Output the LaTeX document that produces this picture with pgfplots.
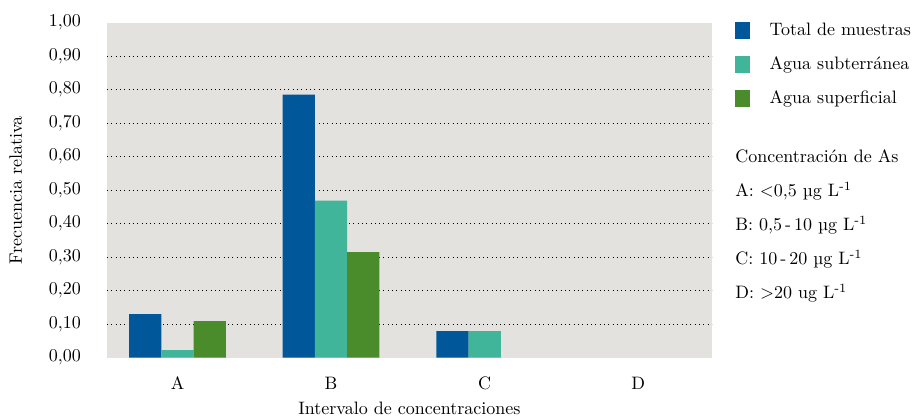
\documentclass[border=0pt]{standalone}
\usepackage{pgfplots}
\pgfplotsset{compat=1.18}

\definecolor{cTotal}{HTML}{00589A}
\definecolor{cSub}{HTML}{40B59A}
\definecolor{cSup}{HTML}{4A8B2C}
\definecolor{cBack}{HTML}{E3E2DE}

\begin{document}
\begin{tikzpicture}
\path[use as bounding box] (-59.4pt,-32.8pt) rectangle (447.7pt,198.6pt);
\begin{axis}[
    name=ax,
    at={(0,0)}, anchor=south west,
    scale only axis,
    width=336pt, height=186pt,
    ybar=0pt, bar width=0.21,
    xmin=-0.46, xmax=3.48,
    ymin=0, ymax=1,
    axis line style={draw=none},
    axis background/.style={fill=cBack},
    xtick={0,1,2,3},
    xticklabels={A,B,C,D},
    ytick={0.1,0.2,...,0.91},
    extra y ticks={0,1},
    extra y tick style={grid=none},
    ymajorgrids,
    major grid style={black, dotted, line width=0.5pt},
    tick style={draw=none},
    yticklabel style={
        /pgf/number format/.cd, fixed, fixed zerofill, precision=2, use comma,
        /tikz/.cd, xshift=-11pt},
    xticklabel style={yshift=-3pt},
    xlabel={Intervalo de concentraciones},
    xlabel style={yshift=0pt},
    ylabel={Frecuencia relativa},
    ylabel style={yshift=8pt},
    legend style={at={(rel axis cs:1,1)}, anchor=north west,
        xshift=9.5pt, yshift=4pt, draw=none, fill=none, row sep=6.3pt,
        /tikz/every odd column/.append style={column sep=9pt}},
    legend cell align=left,
    legend image code/.code={\fill[#1] (0pt,-4.7pt) rectangle (8.4pt,4.7pt);},
]
\addplot[fill=cTotal, draw=none] coordinates {(0,0.13) (1,0.785) (2,0.079)};
\addplot[fill=cSub, draw=none] coordinates {(0,0.022) (1,0.469) (2,0.079)};
\addplot[fill=cSup, draw=none] coordinates {(0,0.109) (1,0.315)};
\legend{Total de muestras, Agua subterránea, Agua superficial}
\end{axis}
\begin{scope}[every node/.style={anchor=base west, inner sep=0pt}]
\node at ([xshift=12.8pt,yshift=-77.8pt]ax.north east) {Concentración de As};
\node at ([xshift=12.8pt,yshift=-96.7pt]ax.north east) {A: $<$0,5 µg L\textsuperscript{-1}};
\node at ([xshift=12.8pt,yshift=-115.6pt]ax.north east) {B: 0,5\,-\,10 µg L\textsuperscript{-1}};
\node at ([xshift=12.8pt,yshift=-134.5pt]ax.north east) {C: 10\,-\,20 µg L\textsuperscript{-1}};
\node at ([xshift=12.8pt,yshift=-153.4pt]ax.north east) {D: $>$20 ug L\textsuperscript{-1}};
\end{scope}
\end{tikzpicture}
\end{document}
